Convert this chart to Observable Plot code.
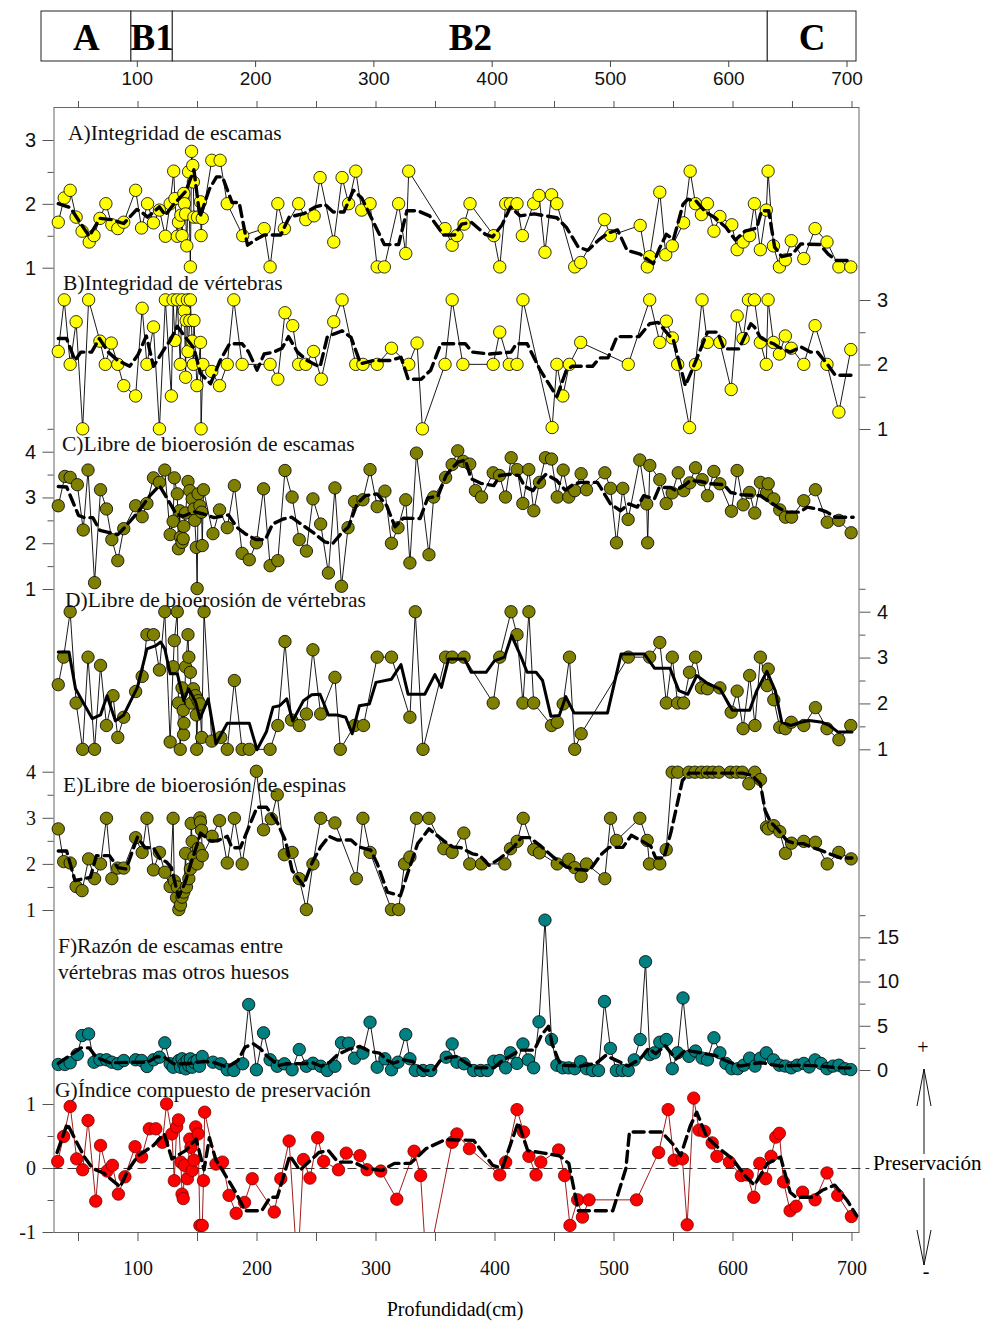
<!DOCTYPE html>
<html>
<head>
<meta charset="utf-8">
<script src="https://cdn.jsdelivr.net/npm/d3@7"></script>
<script src="https://cdn.jsdelivr.net/npm/@observablehq/plot@0.6"></script>
<style>
  body { margin: 0; background: #fff; }
  #chart { position: relative; width: 989px; height: 1325px; }
  #chart svg { position: absolute; left: 0; top: 0; }
</style>
</head>
<body>
<div id="chart"></div>
<script>
// ---- Zones along the core ----
const zoneNames = ["A", "B1", "B2", "C"];
const zoneStart = [19, 95, 130, 633];
const zoneEnd   = [95, 130, 633, 708];

// ---- Series: [profundidad (cm), valor] ----
// A) Integridad de escamas
const escamasInt = [[33,1.72],[38,2.10],[43,2.22],[48,1.80],[53,1.58],[59,1.41],[63,1.51],[68,1.78],[73,2.01],[78,1.68],[83,1.62],[88,1.72],[98,2.22],[103,1.63],[108,2.01],[113,1.71],[118,1.91],[123,1.50],[127,2.01],[130,2.52],[131,2.09],[133,1.50],[134,1.72],[136,1.83],[137,1.51],[138.5,2.17],[139,2.01],[140,1.85],[141,1.35],[142.5,2.51],[144,1.02],[145,2.83],[146,2.61],[146.5,2.35],[147,1.80],[150,1.80],[152.5,2.04],[153,1.51],[154,1.78],[162,2.69],[169,2.69],[175,2.01],[188,1.51],[206,1.62],[211,1.02],[217.5,2.01],[223,1.62],[235,2.01],[241,1.76],[248,1.82],[253,2.42],[264.5,1.41],[271.5,2.42],[277,2.01],[283,2.52],[288,1.91],[295,2.01],[301,1.02],[307,1.02],[319,2.01],[325,1.23],[327.5,2.52],[358,1.62],[364,1.36],[368,1.51],[374,1.69],[379,2.01],[399,1.51],[404,1.02],[409,2.01],[413,2.01],[418.5,2.01],[423,1.51],[432.5,2.01],[437,2.14],[442,1.25],[447.5,2.15],[452,2.01],[467,1.02],[472,1.09],[492,1.76],[497,1.51],[522,1.67],[528,1.02],[530,1.18],[538.5,2.19],[543.5,1.21],[549,1.35],[558.5,1.71],[564,2.52],[568.5,2.01],[573.5,1.84],[578.5,2.01],[584,1.58],[589,1.81],[599,1.68],[603.5,1.29],[608.5,1.41],[614,1.51],[618,2.01],[623,1.29],[628,1.91],[629.5,2.52],[634,1.35],[639,1.02],[644,1.13],[649,1.43],[659.5,1.15],[669,1.62],[679,1.41],[689,1.02],[699,1.02]];
const escamasIntMedia = [[33,2.01],[43,1.95],[59,1.5],[68,1.78],[78,1.76],[88,1.7],[99,1.92],[103,1.88],[108,1.8],[118,1.96],[123,1.83],[130,2.0],[140,2.2],[147,2.54],[152,1.8],[160,2.24],[166,2.43],[171,2.43],[179,2.03],[185,2.03],[192,1.36],[199,1.45],[206,1.52],[220,1.52],[227,1.8],[240,1.86],[249,1.96],[257,2.0],[264,1.88],[273,1.88],[281,2.22],[288,2.1],[307,1.37],[319,1.37],[326,1.9],[335,1.9],[345,1.82],[357,1.52],[366,1.52],[372,1.69],[380,1.72],[392,1.53],[398,1.49],[406,1.68],[413,1.96],[421,1.82],[433,1.85],[452,1.79],[460,1.64],[470,1.33],[478,1.28],[487,1.44],[495,1.55],[503,1.6],[511,1.28],[522,1.22],[533,1.07],[538,1.3],[544,1.53],[550,1.45],[558,2.0],[562,2.08],[569,2.05],[577,1.88],[585,1.79],[594,1.64],[602,1.44],[610,1.58],[620,1.63],[624,1.9],[630,1.9],[635,1.33],[641,1.18],[650,1.22],[657,1.38],[673,1.37],[680,1.22],[687,1.12],[698,1.12]];

// B) Integridad de vértebras
const vertebrasInt = [[33,2.21],[38,3.01],[43,2.01],[48,2.67],[53.5,1.01],[58.5,3.01],[68,2.37],[72.5,2.01],[77.5,2.34],[83,2.01],[88,1.68],[98,1.52],[103.5,2.88],[107.5,2.01],[113,2.59],[118,1.01],[123,3.01],[128,1.52],[129.5,3.01],[131,2.38],[133,3.01],[135.5,2.01],[137,3.01],[139,2.84],[140,1.81],[140.5,2.69],[141.5,3.01],[142,2.21],[143.5,2.69],[144,3.01],[145.5,2.37],[146.5,2.01],[147,2.69],[149.5,1.68],[152.5,2.35],[153,1.01],[154.5,2.01],[162,1.90],[168.5,1.68],[175,2.01],[180.5,3.01],[187.5,2.01],[211,2.01],[217.5,1.78],[223.5,2.81],[230,2.61],[235,2.01],[241,2.01],[247.5,2.21],[254,1.78],[264.5,2.67],[271.5,3.01],[283,2.01],[289,2.01],[301,2.01],[313,2.26],[327.5,2.01],[334.5,2.34],[339,1.01],[358,2.01],[364,3.01],[373,2.01],[398.5,2.01],[404,2.51],[412,2.01],[418.5,2.01],[423.5,3.01],[448,1.03],[452,2.01],[457,1.52],[462.5,2.01],[472,2.35],[512,2.01],[530,3.01],[538.5,2.35],[544,2.68],[549,2.42],[553.5,2.01],[563.5,1.03],[568.5,2.01],[574,3.01],[578.5,2.35],[589,2.35],[598.5,1.62],[603.5,2.76],[608.5,2.41],[613,3.01],[618,3.01],[623,2.35],[628,2.01],[629.5,3.01],[634,2.35],[639,2.17],[644,2.45],[649,2.26],[659.5,2.01],[669,2.61],[679,2.01],[689,1.27],[699,2.24]];
const vertebrasIntMedia = [[33,2.41],[40,2.41],[47,2.07],[52,2.2],[61,2.2],[67.5,2.41],[75,2.2],[83,2.07],[93,1.98],[100,2.16],[107,2.45],[113,1.98],[122.5,2.26],[127,2.38],[133,2.6],[139,2.45],[147,2.26],[152.5,1.87],[161,1.71],[169,2.07],[177,2.33],[187.5,2.33],[193,2.2],[200,1.92],[206,2.17],[214,2.2],[221,2.26],[226.5,2.44],[234,2.2],[242,2.07],[253,1.97],[259,2.43],[264.5,2.48],[271.5,2.53],[279,2.43],[287,2.02],[298,2.07],[312,2.07],[321,2.12],[327,1.78],[338,1.78],[346,1.92],[354.5,2.33],[375,2.33],[381,2.2],[395,2.17],[413.5,2.2],[418,2.33],[427,2.33],[438,1.92],[452,1.51],[460,1.92],[465,1.98],[482,1.98],[488,2.11],[495,2.11],[502.5,2.44],[521,2.44],[530,2.64],[537,2.66],[550,2.38],[560,1.68],[568.5,2.05],[578.5,2.51],[587,2.51],[592.5,2.25],[605,2.25],[615,2.64],[618,2.59],[623,2.43],[628.5,2.37],[634,2.33],[638,2.28],[648,2.2],[657,2.28],[665,2.2],[671,2.2],[679,2.02],[686,1.84],[700,1.84]];

// C) Libre de bioerosión de escamas
const escamasBio = [[33,2.83],[38.5,3.47],[43,3.45],[49,3.29],[54,2.30],[58,3.61],[63.5,1.15],[68.5,3.18],[73.5,2.76],[78,2.09],[83,1.63],[88,2.33],[98,2.83],[103.5,2.59],[107.5,2.88],[113,3.44],[118,3.34],[122.5,3.61],[127,2.20],[129.5,2.49],[130.5,3.44],[133,3.09],[134,1.89],[135,2.72],[135.7,2.14],[137,2.03],[138,2.11],[138.5,2.38],[140,2.67],[142,3.36],[143.5,3.16],[145.5,2.98],[147,2.76],[147.7,2.51],[149,1.92],[149.7,1.02],[150.5,3.09],[152,2.83],[153.4,2.69],[154,1.96],[155,3.18],[163,2.22],[168.5,2.74],[175,2.35],[181,3.27],[187.5,1.79],[193.5,1.65],[199.5,2.02],[205.5,3.20],[211,1.52],[217.5,1.63],[223.5,3.60],[229.5,3.02],[235.5,2.09],[241.5,1.84],[247,2.98],[253.5,2.43],[260,1.36],[265.5,3.22],[271,1.07],[276.5,2.35],[282,2.92],[289,2.96],[295,3.62],[301,2.81],[307.5,3.15],[313,2.01],[318.5,2.35],[325,2.96],[328.5,1.58],[334,3.98],[344.5,1.76],[348.5,3.02],[358.5,3.45],[364,3.73],[368.7,4.03],[373.3,3.80],[378.8,3.74],[383.6,3.16],[388.7,3.02],[398.5,3.55],[403.8,3.49],[408.8,3.02],[413.6,3.88],[418.6,3.62],[423.4,2.88],[428.4,3.62],[432.6,2.72],[437.4,3.34],[442.4,3.88],[447.5,3.85],[452.3,3.02],[457.3,3.61],[462,3.02],[467,3.16],[472.4,3.53],[476.9,3.18],[492.3,3.55],[497.1,3.21],[502.1,2.02],[507.4,3.21],[511.9,2.53],[521.7,3.83],[527.5,2.87],[528.3,2.02],[530.1,3.71],[538.5,3.40],[543.9,2.88],[548.9,3.11],[554,3.55],[558.6,3.16],[563.7,3.33],[568.5,3.66],[574.1,3.40],[578.6,3.05],[583.9,3.58],[588.9,3.31],[598.7,2.71],[603.5,3.60],[608.6,2.85],[613.9,3.12],[618.3,2.67],[623.1,3.34],[628.2,3.11],[629.6,3.31],[634.3,2.98],[639.3,2.74],[644.1,2.58],[649.2,2.58],[659.5,2.94],[669.3,3.18],[679.2,2.47],[688.9,2.51],[699.3,2.24]];
const escamasBioMedia = [[33,3.25],[40,3.24],[50,2.62],[55,2.57],[62,2.57],[68,2.29],[75,2.25],[83,2.2],[89,2.36],[100,2.69],[110,3.05],[118,3.27],[125,2.97],[132,2.65],[138,2.6],[147,2.7],[155,2.65],[164,2.57],[170,2.6],[176,2.63],[183,2.36],[190,2.22],[199,2.09],[207,2.09],[213,2.43],[222,2.54],[229,2.58],[237,2.43],[247,2.25],[257,2.04],[263.5,2.0],[270,2.2],[277,2.37],[284,2.87],[291,3.05],[301,3.09],[309,2.83],[316,2.37],[323,2.56],[337,2.55],[343.5,3.0],[352,3.04],[359,3.5],[368.5,3.78],[375,3.83],[380,3.42],[388,3.32],[399,3.27],[404,3.49],[413,3.52],[420,3.49],[425,3.25],[432,3.16],[437.5,3.38],[443,3.52],[452,3.38],[459,3.17],[466,3.3],[472,3.34],[486,3.34],[489,3.22],[497,2.87],[505.5,2.72],[512.5,2.87],[519.5,2.8],[525,3.05],[534,2.98],[538,3.23],[547.5,3.23],[552,3.16],[559,3.27],[564,3.38],[573,3.36],[581,3.31],[592.5,3.29],[598,3.12],[607,3.07],[623,3.05],[631.5,2.9],[640,2.76],[646,2.69],[656,2.69],[662.5,2.8],[674,2.74],[679,2.69],[686,2.58],[701,2.58]];

// D) Libre de bioerosión de vértebras
const vertebrasBio = [[33,2.42],[37.5,3.02],[43,4.01],[48,2.02],[53.5,1.01],[58,3.02],[63.5,1.01],[68.5,2.84],[73.5,1.53],[79,2.18],[83,1.27],[88,1.71],[98,2.27],[103.5,2.60],[107.5,3.51],[113,3.51],[118,2.74],[122.5,4.01],[127,1.17],[129.5,2.81],[130.5,3.38],[133,4.01],[134,2.02],[135.5,1.01],[137,2.35],[138,1.86],[138.3,1.33],[138.6,1.58],[140,2.81],[142,3.51],[142.7,3.02],[144,2.69],[145,2.02],[146.5,2.33],[148.3,2.18],[149,1.76],[149.3,1.01],[150.5,2.07],[152,2.0],[153.5,1.27],[155.5,4.01],[162,1.19],[169.5,1.27],[175,1.01],[181,2.51],[187.5,1.01],[193.5,1.01],[211,1.01],[217.5,1.53],[223.5,3.36],[229,1.65],[235.5,1.53],[241.5,1.78],[247,3.18],[253.5,1.78],[265.5,2.58],[270,1.01],[282,1.53],[289.5,1.53],[301,3.02],[313,3.02],[328.5,1.71],[333,4.01],[339.5,1.01],[358.5,3.02],[364,3.02],[374,3.02],[398.5,2.02],[404,3.02],[413.5,4.01],[418.5,3.51],[423.5,2.02],[428.5,4.01],[432.5,2.02],[447.5,1.53],[452.3,1.60],[457.3,2.0],[462.6,3.02],[467,1.01],[472.4,1.35],[512,3.02],[530,3.02],[538.5,3.34],[544,2.02],[549,3.02],[553.5,2.02],[558.5,2.02],[563.5,2.69],[568.5,3.02],[573.5,2.35],[578.5,2.33],[589,2.35],[598.5,1.82],[603.5,2.28],[608.5,1.46],[614,2.62],[618.5,1.53],[623,3.02],[628.7,2.40],[629.6,2.76],[634.3,2.09],[639.3,1.49],[644,1.46],[649,1.60],[659.5,1.53],[669.3,1.92],[679,1.46],[689,1.22],[699,1.53]];
const vertebrasBioMedia = [[33,3.13],[42,3.13],[47.5,2.33],[61.5,1.68],[68.5,1.76],[74,2.18],[81,1.63],[88,1.76],[99.5,2.36],[107.5,3.2],[115,3.27],[119,3.35],[122.5,3.2],[127,2.66],[133,2.66],[138.5,2.07],[142.5,2.33],[148.5,2.04],[152,1.68],[159,2.11],[165.5,1.13],[175,1.58],[181,1.58],[193.5,1.58],[200,1.0],[208,1.4],[213.5,1.93],[219,1.96],[225,2.11],[230,1.63],[239,2.07],[246,2.2],[253,2.21],[260,1.76],[267.5,1.76],[274.5,1.71],[280,1.35],[286,1.96],[294.5,2.0],[300,2.47],[313,2.54],[321,2.86],[327,2.21],[341,2.21],[349.5,2.64],[355,2.36],[361,2.98],[374.5,2.98],[380,2.69],[392.5,2.69],[399.5,2.94],[408,3.02],[414,3.49],[422,3.02],[427,2.69],[434.5,2.69],[440,2.51],[447,1.73],[454,1.75],[459.5,2.16],[466.5,1.8],[494.5,1.8],[506,3.09],[525.5,3.09],[534,2.78],[547,2.78],[554.5,2.29],[562,2.21],[569.5,2.62],[579,2.44],[589,2.33],[599.5,1.86],[614,1.86],[620,2.29],[628.5,2.71],[635.5,2.29],[641,1.6],[648.5,1.53],[657,1.6],[664,1.64],[675,1.6],[681,1.53],[688,1.39],[700,1.39]];

// E) Libre de bioerosión de espinas
const espinasBio = [[33,2.77],[37.5,2.06],[43,2.03],[48,1.52],[53,1.43],[58.5,2.12],[63.5,1.69],[68.5,2.01],[73.5,3.0],[78,1.69],[83,1.92],[88,1.92],[98,2.58],[103.5,2.26],[107.5,3.0],[113,1.88],[118,2.26],[122.5,1.83],[127,1.52],[129.5,3.0],[130.5,1.64],[132.4,1.28],[133,1.51],[134.3,1.02],[135.7,1.12],[137,1.29],[138.5,1.40],[140,2.24],[140.7,1.51],[142.7,1.69],[144,1.90],[144.7,2.89],[145.5,2.50],[147,2.16],[149.7,2.01],[150.6,2.35],[152,3.01],[152.5,2.92],[153.4,2.74],[154,2.19],[162.3,2.61],[168.5,2.95],[175,2.03],[181,3.0],[187.5,2.01],[199.5,4.02],[205.5,2.75],[212,2.99],[217,3.51],[223,2.21],[229.5,2.26],[235.5,1.69],[241.5,1.02],[247,2.01],[253.5,3.0],[265.5,2.90],[283.5,1.69],[289,3.0],[295,2.26],[313,1.02],[319,1.02],[324,2.01],[328.5,2.16],[334,3.0],[344.5,3.0],[357,2.34],[364,2.26],[373.8,2.68],[378.8,2.01],[388.7,2.01],[408.3,2.01],[413,2.34],[418.6,2.50],[423.7,3.0],[432.6,2.32],[437.4,2.25],[452.3,2.01],[462,2.11],[467,1.93],[472.4,1.74],[476.9,2.01],[492.3,1.69],[497.1,3.0],[502.1,2.52],[521.7,3.0],[527.9,2.52],[529.8,2.01],[538.5,2.01],[543.9,2.32],[548.9,4.0],[553.6,4.0],[562.9,4.0],[568,4.0],[573.5,4.0],[578.3,4.0],[583,4.0],[588.1,4.0],[597.9,4.0],[603,4.0],[607.8,4.0],[613.3,3.75],[618.3,4.0],[623.1,3.84],[628.2,2.81],[629.6,2.77],[634.3,2.84],[639.3,2.71],[644.1,2.24],[649.2,2.46],[659.5,2.5],[669.3,2.48],[679.2,2.01],[688.9,2.26],[699.3,2.12]];
const espinasBioMedia = [[33,2.29],[40,2.29],[47,1.65],[60,1.72],[65,2.19],[76,2.19],[83,1.93],[90,1.9],[99.5,2.59],[106,2.36],[113,2.36],[118.5,2.12],[124,2.05],[128,1.93],[134,1.29],[139.5,1.6],[145,2.07],[149.7,2.43],[152.5,2.68],[161,2.51],[166.5,2.51],[175,2.61],[179,2.36],[186,2.36],[193,2.8],[200,3.24],[208,3.24],[217,2.91],[224,2.51],[229.5,1.87],[239,1.54],[246.5,2.05],[253.5,2.38],[260.5,2.61],[267.5,2.53],[279,2.53],[285.5,2.38],[295.5,2.31],[301,2.02],[309.5,1.4],[320.5,1.32],[326.5,1.8],[335,2.45],[344.5,2.77],[357,2.51],[364.5,2.38],[371.5,2.36],[381,2.23],[387,2.2],[395,1.98],[402,2.09],[410.5,2.26],[416.5,2.4],[422,2.58],[429,2.58],[437.5,2.42],[448.5,2.17],[460,1.94],[469.5,1.89],[479.5,1.87],[489,2.21],[496,2.37],[507.5,2.37],[514.5,2.63],[524,2.5],[531,2.39],[535,2.14],[542,2.14],[548,2.71],[557.5,3.82],[563,3.98],[608,3.98],[616,3.93],[623,3.75],[627,3.17],[631.5,2.92],[637,2.78],[645.5,2.51],[652.5,2.45],[659.5,2.45],[665,2.38],[673.5,2.31],[683,2.21],[690.5,2.14],[700,2.14]];

// F) Razón de escamas entre vértebras mas otros huesos
const razon = [[33,0.68],[38.5,0.68],[43,0.87],[49,1.81],[53,3.95],[58.5,4.14],[63,0.94],[68,1.21],[73.5,1.21],[78,0.94],[83,0.76],[88,1.13],[98,1.21],[103,1.13],[107.5,0.45],[113,1.21],[118,1.5],[122.5,3.13],[127,0.76],[129.5,0.37],[134.3,1.13],[135.7,0.37],[137,1.32],[138.5,0.76],[140,0.19],[141.3,1.13],[142.7,0.56],[144,1.32],[145.5,0.37],[147,0.94],[149.7,1.13],[151.6,0.48],[154,1.58],[163,0.94],[169.5,0.76],[175,0.08],[180.5,0],[188,0.76],[193,7.46],[199.5,0.08],[205.5,4.26],[211,1.21],[217,0.48],[223,0.76],[229.5,0.08],[235.5,2.37],[241.5,0.48],[247,0.82],[253.5,0.48],[259,0],[265.5,0.48],[271,3.13],[277,3.09],[282,1.39],[289,1.96],[295,5.46],[301,0.37],[307.5,1.32],[313,0.08],[318.5,0.94],[325,4.07],[328.5,1.32],[333,0],[339.5,0],[346,0],[359,1.5],[364,3.01],[368,0.94],[374,0.76],[382,0],[388,0],[393.5,0],[399,1.05],[404,1.13],[409,0.3],[413,2.0],[418.5,0.8],[423.5,3.0],[428,1.2],[432.5,0.3],[437,5.5],[442,17],[447.5,3.5],[452,0.6],[457,0.3],[462,0.3],[467,0.2],[472,1.0],[477,0.2],[482,0],[487,0],[492,7.8],[497,2.5],[502,0],[507,0],[512,0],[517,1.2],[522,3.5],[526.5,12.3],[530,1.8],[534,2.0],[538.5,3.2],[544,3.5],[549,0.2],[553.5,2.0],[558,8.2],[563,1.6],[568.5,2.2],[574,1.4],[578.5,1.2],[584,3.7],[589,2.0],[594,0.8],[599,0.2],[604,0.2],[609,0.6],[614,1.4],[618.5,0.5],[623,1.4],[628,2.0],[634,1.2],[639,0.6],[644,0.5],[649,0.3],[654,0.6],[659.5,0.8],[664,0.4],[669,1.2],[674,0.8],[679,0.2],[684,0.5],[689,0.6],[694,0.2],[699,0.1]];
const razonMedia = [[33,0.8],[52,2.56],[59,2.56],[65,1.5],[76,0.87],[96,0.94],[108,0.94],[116,1.58],[122,1.5],[130,0.76],[141,0.76],[155,1.02],[163,0.94],[175,0.37],[184,1.13],[190,2.64],[197,3.01],[203,2.45],[208,1.7],[218,0.56],[225,0.76],[236,0.76],[247,0.87],[254,0.48],[261,0.94],[267,1.7],[272,2.07],[278,2.45],[286.5,2.71],[295,2.15],[303,1.96],[309,1.2],[314.5,0.82],[323,1.2],[331,1.02],[340,0],[348,0],[354,1.13],[361,1.5],[368,1.58],[382,0.3],[399,0.3],[405,1.0],[421,2.3],[433,2.3],[439,4.0],[445,5.0],[448,3.0],[455,0.6],[472,0.5],[485,0.8],[493,1.7],[501,1.2],[512,0.5],[522,1.3],[529,2.5],[535,1.9],[543,2.8],[552,1.3],[560,2.3],[573,2.0],[585,1.7],[594,1.1],[606,0.5],[623,0.9],[640,0.5],[657,0.6],[674,0.5],[690,0.3],[699,0.3]];

// G) Índice compuesto de preservación
const indice = [[32.5,0.11],[37.5,0.5],[43,0.97],[48.5,0.15],[53.5,-0.02],[58,0.75],[64.5,-0.51],[68.5,0.36],[74,-0.04],[78.5,0.05],[83.5,-0.4],[89,-0.13],[97.5,0.34],[103,0.18],[109.5,0.62],[115,0.62],[120.5,0.41],[124,1.01],[128.5,0.54],[130.5,-0.19],[132.5,0.65],[134,0.76],[136,0.10],[137,-0.4],[138,-0.47],[139,0.05],[141.5,-0.16],[143.5,0.46],[144.5,0.33],[145.5,-0.03],[147,0.13],[148.5,0.65],[150.5,0.54],[152,-0.89],[154,-0.89],[155,-0.19],[156,0.88],[165.5,0.07],[171,0.10],[176.5,-0.42],[182.5,-0.70],[189.5,-0.53],[196,-0.16],[214.5,-0.68],[220,-0.16],[227,0.43],[234,-1.6],[239,0.14],[244.5,-0.15],[251,0.48],[256,0.11],[268.5,-0.02],[275,0.24],[286.5,0.20],[292.5,-0.02],[304,-0.04],[317.5,-0.48],[332,0.27],[337.5,-0.11],[342.5,-1.6],[364,0.41],[368,0.54],[378.5,0.31],[404,-0.10],[409,0.10],[418.5,0.92],[424,0.57],[428.5,0.19],[434.5,-0.10],[438.5,0.10],[453.5,0.29],[458.5,-0.11],[463,-0.89],[469.5,-0.49],[473.5,-0.76],[479,-0.49],[519,-0.49],[537.5,0.25],[545.5,0.92],[550.5,0.13],[557.5,0.15],[561.5,-0.88],[567,1.10],[571.5,0.6],[576,0.58],[582.5,0.4],[586.5,0.19],[597,0.10],[607,-0.11],[612,-0.10],[617.5,-0.45],[622.5,0.08],[627.5,-0.16],[632,0.19],[636,0.49],[639,0.55],[642.5,-0.21],[648,-0.66],[653,-0.59],[658.5,-0.37],[669,-0.49],[679,-0.07],[688,-0.42],[699.5,-0.75]];
const indiceMedia = [[32,0.25],[40.5,0.70],[49,0.39],[55,0.18],[62,0.0],[71,-0.07],[82,-0.24],[85,-0.29],[91.5,-0.03],[100,0.20],[113,0.36],[122,0.54],[128.5,0.15],[140,0.28],[148.8,0.46],[155.5,-0.02],[160,0.48],[165.5,0.13],[171,-0.03],[182,-0.37],[190,-0.66],[204,-0.66],[211,-0.45],[217,-0.45],[227.5,0.20],[236,-0.03],[252,0.25],[260,0.28],[268,0.1],[281,0.1],[292,0.0],[305,-0.03],[315.5,0.08],[329,0.08],[342,0.31],[358,0.45],[382,0.44],[398,0.05],[406,0.0],[419.5,0.72],[427.5,0.28],[441,0.24],[454,0.2],[462,0.08],[470,-0.66],[499,-0.66],[510,0.0],[513,0.57],[540,0.57],[550,0.37],[556,0.2],[564,0.66],[569.5,0.88],[578,0.49],[588.5,0.31],[599.5,0.15],[610,-0.11],[618,-0.26],[629,0.08],[640,0.18],[648,-0.37],[653,-0.45],[667,-0.45],[675,-0.34],[685.5,-0.26],[696,-0.5],[704,-0.74]];

// ---- Layout ----
const W = 989, H = 1325;
const X_DOMAIN = [29.4, 705.9];
const ML = 53.5, MR = 130.5;
const SANS = "Liberation Sans, Arial, sans-serif";
const SERIF = "Liberation Serif, Times New Roman, serif";
const chart = document.getElementById("chart");
const baseStyle = {background: "transparent", overflow: "visible", fontSize: "20px"};
const plainNumber = d => String(d); // ASCII minus, no trailing decimals

// Margins that put value v1 at pixel p1 and v2 at pixel p2 for a y domain [lo, hi]
function yMargins([v1, p1, v2, p2], lo, hi) {
  const k = (p2 - p1) / (v2 - v1);
  const px = v => p1 + (v - v1) * k;
  return {marginTop: px(hi), marginBottom: H - px(lo)};
}

const range = (a, b, s) => d3.range(a, b + s / 2, s);

function panel(cfg) {
  const xy = {x: d => d[0], y: d => d[1]};
  const m = yMargins(cfg.ref, cfg.domain[0], cfg.domain[1]);
  return Plot.plot({
    width: W, height: H, marginLeft: ML, marginRight: MR, ...m,
    x: {domain: X_DOMAIN, axis: null},
    y: {domain: cfg.domain},
    style: {...baseStyle, fontFamily: cfg.font},
    marks: [
      Plot.axisY(cfg.minor, {anchor: cfg.side, tickSize: 6, tickFormat: () => "", stroke: "#555", label: null}),
      Plot.axisY(cfg.major, {anchor: cfg.side, tickSize: 11, tickPadding: 7, stroke: "#555", fill: "#111",
        tickFormat: plainNumber, fontFamily: cfg.font, fontSize: 20, label: null}),
      ...(cfg.extra || []),
      Plot.line(cfg.values, {...xy, stroke: cfg.lineColor || "#000", strokeWidth: 0.9, clip: true}),
      Plot.dot(cfg.values, {...xy, r: 6.2, fill: cfg.fill, stroke: cfg.dotStroke || "#000", strokeWidth: 0.8, filter: d => d[1] >= cfg.domain[0]}),
      Plot.line(cfg.mean, {...xy, stroke: "#000", strokeWidth: cfg.dash ? 3.4 : 3, strokeDasharray: cfg.dash || null})
    ]
  });
}

// Zone bar with its own depth axis
const zones = zoneNames.map((name, i) => ({name, start: zoneStart[i], end: zoneEnd[i]}));
chart.append(Plot.plot({
  width: W, height: 100, marginLeft: 41, marginRight: 133, marginTop: 11, marginBottom: 39,
  x: {domain: [19, 708]},
  y: {domain: [0, 1], axis: null},
  style: {...baseStyle, fontFamily: SANS},
  marks: [
    Plot.rect(zones, {x1: "start", x2: "end", y1: 0, y2: 1, fill: "#fff", stroke: "#222", strokeWidth: 1}),
    Plot.text(zones, {x: d => (d.start + d.end) / 2, y: 0.47, text: "name", fontFamily: SERIF, fontWeight: "bold", fontSize: 37, fill: "#000"}),
    Plot.axisX(range(100, 700, 100), {anchor: "bottom", tickSize: 6, tickPadding: 4, stroke: "#444", fill: "#111",
      tickFormat: plainNumber, fontSize: 19, label: null})
  ]
}));

// Outer frame with top and bottom depth ticks
chart.append(Plot.plot({
  width: W, height: H, marginLeft: ML, marginRight: MR, marginTop: 107, marginBottom: H - 1232,
  x: {domain: X_DOMAIN},
  y: {domain: [0, 1], axis: null},
  style: {...baseStyle, fontFamily: SERIF},
  marks: [
    Plot.frame({stroke: "#666", strokeWidth: 1}),
    Plot.axisX(range(50, 700, 50), {anchor: "top", tickSize: 7, tickFormat: () => "", stroke: "#555", label: null}),
    Plot.axisX(range(50, 700, 50), {anchor: "bottom", tickSize: 9, tickPadding: 19, stroke: "#555", fill: "#111",
      tickFormat: d => d % 100 === 0 ? String(d) : "", fontFamily: SERIF, fontSize: 20, label: null})
  ]
}));

const DASH = "11,6";
const panels = [
  {values: escamasInt, mean: escamasIntMedia, ref: [1, 267.7, 3, 140], domain: [0.9, 3.2], side: "left", font: SANS,
   major: [1, 2, 3], minor: [1.5, 2.5], fill: "#ffff00", dash: DASH},
  {values: vertebrasInt, mean: vertebrasIntMedia, ref: [1, 429, 3, 300], domain: [0.9, 3.25], side: "right", font: SANS,
   major: [1, 2, 3], minor: [1.5, 2.5], fill: "#ffff00", dash: DASH},
  {values: escamasBio, mean: escamasBioMedia, ref: [1, 589, 4, 451.7], domain: [0.9, 4.6], side: "left", font: SANS,
   major: [1, 2, 3, 4], minor: [1.5, 2.5, 3.5, 4.5], fill: "#808000", dash: DASH},
  {values: vertebrasBio, mean: vertebrasBioMedia, ref: [1, 749.3, 4, 611.7], domain: [0.9, 4.6], side: "right", font: SANS,
   major: [1, 2, 3, 4], minor: [1.5, 2.5, 3.5, 4.5], fill: "#808000", dash: null},
  {values: espinasBio, mean: espinasBioMedia, ref: [1, 910, 4, 771.7], domain: [0.9, 4.2], side: "left", font: SERIF,
   major: [1, 2, 3, 4], minor: [1.5, 2.5, 3.5], fill: "#808000", dash: DASH},
  {values: razon, mean: razonMedia, ref: [0, 1070, 15, 937.3], domain: [-0.8, 18.5], side: "right", font: SANS,
   major: [0, 5, 10, 15], minor: [2.5, 7.5, 12.5, 17.5], fill: "#008080", dash: DASH},
  {values: indice, mean: indiceMedia, ref: [-1, 1232, 1, 1104], domain: [-1, 1.35], side: "left", font: SERIF,
   major: [-1, 0, 1], minor: [-0.5, 0.5], fill: "#ff0000", dotStroke: "#7a0000", lineColor: "#990000", dash: DASH,
   extra: [Plot.ruleY([0], {x1: X_DOMAIN[0], x2: 715, stroke: "#333", strokeWidth: 1, strokeDasharray: "9,5"})]}
];
for (const cfg of panels) chart.append(panel(cfg));

// Panel titles, depth label and preservation arrows
const svg = d3.create("svg").attr("width", W).attr("height", H)
  .style("font-family", SERIF).style("overflow", "visible");
const titles = [
  ["A)Integridad de escamas", 68, 140],
  ["B)Integridad de vértebras", 63, 290],
  ["C)Libre de bioerosión de escamas", 62, 451],
  ["D)Libre de bioerosión de vértebras", 65, 607],
  ["E)Libre de bioerosión de espinas", 63, 792],
  ["F)Razón de escamas entre", 58, 953],
  ["vértebras mas otros huesos", 58, 979],
  ["G)Índice compuesto de preservación", 55, 1097]
];
svg.selectAll("text.title").data(titles).join("text").attr("class", "title")
  .attr("x", d => d[1]).attr("y", d => d[2]).attr("font-size", 21.5).attr("fill", "#111").text(d => d[0]);
svg.append("text").attr("x", 455).attr("y", 1316).attr("text-anchor", "middle").attr("font-size", 20).text("Profundidad(cm)");
svg.append("text").attr("x", 873).attr("y", 1170).attr("font-size", 21).text("Preservación");
svg.append("text").attr("x", 923).attr("y", 1054).attr("text-anchor", "middle").attr("font-size", 20).text("+");
svg.append("text").attr("x", 926).attr("y", 1278).attr("text-anchor", "middle").attr("font-size", 20).text("-");
const arrows = svg.append("g").attr("stroke", "#111").attr("stroke-width", 1).attr("fill", "none");
arrows.append("path").attr("d", "M924,1154V1069M917,1106L924,1069L931,1106");
arrows.append("path").attr("d", "M924,1178V1265M917,1230L924,1265L931,1230");
chart.append(svg.node());
</script>
</body>
</html>
